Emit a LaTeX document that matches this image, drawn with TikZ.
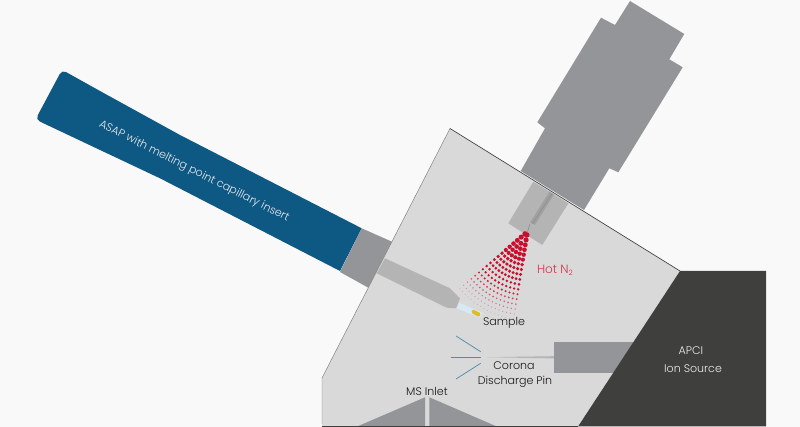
\documentclass[tikz,border=0pt]{standalone}
\usepackage{fontspec}
\setmainfont{Poppins}[UprightFont=* Light]
\definecolor{bgc}{HTML}{F9F9F9}
\definecolor{chamber}{HTML}{D9D9D9}
\definecolor{darkc}{HTML}{3F3F3E}
\definecolor{greyc}{HTML}{939598}
\definecolor{lightg}{HTML}{B4B4B5}
\definecolor{blueprobe}{HTML}{0E5884}
\definecolor{redc}{HTML}{C8102E}
\definecolor{linkblue}{HTML}{4F8CB0}
\definecolor{glassc}{HTML}{D6E9F5}
\definecolor{samplec}{HTML}{DDBE1A}
\tikzset{
  lbl/.style={font=\fontsize{8.3}{10}\selectfont, text=black!90, inner sep=0pt},
  whitelbl/.style={font=\fontsize{8.3}{10}\selectfont, text=white!92!black, inner sep=0pt},
  discharge/.style={draw=linkblue, line width=0.55pt},
}
\begin{document}
\begin{tikzpicture}[x=0.75pt,y=-0.75pt]
\useasboundingbox (0,0) rectangle (800,427);
\fill[bgc] (0,0) rectangle (800,427);
% heater
\fill[greyc] (520.7,171) -- (545,128.3) -- (537.3,122.3) -- (601,17.7) -- (615,25) -- (630,1) -- (684.3,34) -- (669.3,59.3) -- (682.7,67.3) -- (618.3,172.3) -- (609.3,168.3) -- (584,210) -- cycle;
% probe
\fill[blueprobe, rounded corners=3.5pt] (100,91) -- (62,69.8) -- (35.5,119.5) -- (100,150) [sharp corners] -- (160,178.3) -- (340,271) -- (361.7,228.3) -- (180,135) -- cycle;
\fill[greyc] (361.7,228.3) -- (392,241.7) -- (368.3,287.7) -- (340,272) -- cycle;
% chamber
\fill[chamber] (450,128.5) -- (680,271) -- (578,426) -- (322,426) -- (322,378) -- cycle;
\draw[black!50, line width=0.35pt] (322,424) -- (322,378) -- (450,128.5);
\draw[black!75, line width=0.5pt] (450,128.5) -- (680,271);
\draw[darkc, line width=0.7pt] (322,426.3) -- (578,426.3);
% heater inner
\fill[lightg] (533.3,181.7) -- (508.3,223.3) -- (542.3,245) -- (568.3,203.3) -- cycle;
\fill[black!26!chamber] (549.5,191.5) -- (554,194.5) -- (535,225) -- (530,222.5) -- cycle;
\fill[black!32!chamber] (551.2,193.5) -- (552.2,194) -- (533,224) -- (532,223.5) -- cycle;
\draw[black!38!chamber, line width=0.4pt] (530,224) -- (527.5,232);
% capillary
\fill[lightg] (385,258.3) -- (376.7,273.3) -- (446.7,307.7) -- (456,308.3) -- (460,298.3) -- (450,288.3) -- cycle;
\fill[glassc] (459.3,302.7) -- (456.7,308.3) -- (480,317.7) -- (483,313) -- cycle;
\fill[samplec, rounded corners=1pt] (472.7,309.2) -- (481,313.5) -- (479.3,317) -- (471,312.7) -- cycle;
% spray
\foreach \r in {3,8,...,90}{
  \pgfmathsetmacro{\dotr}{max(0.55,2.8-\r*0.026)}
  \pgfmathsetmacro{\opac}{\r<58 ? 1 : max(0.22,1-(\r-58)*0.025)}
  \pgfmathtruncatemacro{\ndots}{max(1,round(\r*0.71/4.0))}
  \foreach \i in {0,...,\ndots}{
    \pgfmathsetmacro{\ang}{119.5+(\i/\ndots-0.5)*41}
    \fill[redc, opacity=\opac] ({527.3+\r*cos(\ang)},{232+\r*sin(\ang)}) circle[radius=\dotr];
  }
}
% corona pin
\fill[lightg] (486,357.2) -- (554,356.2) -- (554,358.4) -- cycle;
\fill[greyc] (554,342.3) -- (650,342.3) -- (650,372.7) -- (554,372.7) -- cycle;
\draw[discharge] (456,336) -- (480.7,351.7);
\draw[discharge] (450.7,357.3) -- (480.7,357.3);
\draw[discharge] (456,379) -- (480.7,363.3);
% ms inlet
\fill[greyc] (425,397.3) -- (425,426) -- (358.3,426) -- cycle;
\fill[greyc] (429.3,397.3) -- (429.3,426) -- (495.7,426) -- cycle;
% APCI
\fill[darkc] (680,271) -- (766,271) -- (766,426.5) -- (578,426.5) -- cycle;
% labels
\node[whitelbl, rotate=-26.8] (asap) at (194,171.5) {ASAP with melting point capillary insert};
\node[lbl, text=redc!85!white, font=\fontsize{9}{10}\selectfont] (hot) at (555,270) {Hot N\raisebox{-0.35ex}{\fontsize{5.5}{6}\selectfont 2}};
\node[lbl] (sample) at (504,323) {Sample};
\node[lbl] (corona) at (514,366) {Corona};
\node[lbl] (pin) at (515,382) {Discharge Pin};
\node[lbl] (ms) at (427,391) {MS Inlet};
\node[whitelbl] (apci) at (691,351) {APCI};
\node[whitelbl] (ion) at (693,369) {Ion Source};
\end{tikzpicture}
\end{document}
